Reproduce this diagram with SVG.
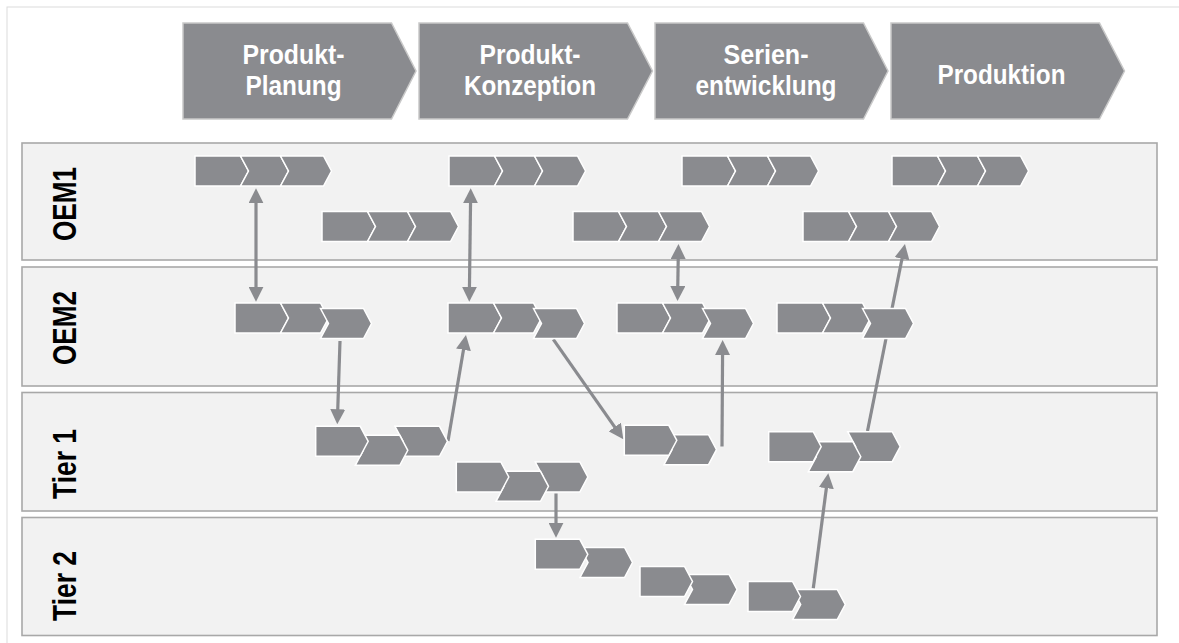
<svg xmlns="http://www.w3.org/2000/svg" xmlns:xlink="http://www.w3.org/1999/xlink" width="1179" height="643" viewBox="0 0 1179 643">
  <style>
    .frame { fill: #ffffff; stroke: #dcdcdc; stroke-width: 1; }
    .phase { fill: #8a8b8f; stroke: #c9c9c9; stroke-width: 1.5; }
    .phase-text { font-family: "Liberation Sans", Arial, sans-serif; font-weight: bold; font-size: 27px; fill: #ffffff; text-anchor: middle; }
    .lane { fill: #f2f2f2; stroke: #a8a8a8; stroke-width: 1.6; }
    .lane-text { font-family: "Liberation Sans", Arial, sans-serif; font-weight: bold; font-size: 33.5px; fill: #000000; text-anchor: middle; }
    .step { fill: #8a8b8f; stroke: #ffffff; stroke-width: 1.5; stroke-linejoin: miter; }
    .link { fill: none; stroke: #8a8b8f; stroke-width: 3.2; }
  </style>
  <defs>
    <!-- small process steps: flat-left first step and notched follow-up steps -->
    <polygon id="s-first" class="step" points="0,0 45.5,0 53.5,15 45.5,30 0,30"/>
    <polygon id="s-mid" class="step" points="0,0 40,0 48,15 40,30 0,30 8,15"/>
    <polygon id="s-last" class="step" points="0,0 43,0 51,15 43,30 0,30 8,15"/>
    <polygon id="t-first" class="step" points="0,0 44.5,0 52.5,15 44.5,30 0,30"/>
    <polygon id="t-next" class="step" points="0,0 44.5,0 52.5,15 44.5,30 0,30 8,15"/>
    <marker id="head" viewBox="0 0 15 15" refX="5" refY="7.5" markerWidth="15" markerHeight="15" markerUnits="userSpaceOnUse" orient="auto-start-reverse">
      <path d="M0,0 L15,7.5 L0,15 Z" fill="#8a8b8f"/>
    </marker>
  </defs>

  <rect class="frame" x="7" y="7" width="1180" height="645"/>

  <!-- phase header -->
  <g id="phase-planung">
    <polygon class="phase" points="183,23 391.5,23 416,71 391.5,119 183,119"/>
    <text class="phase-text" x="293.5" y="64" textLength="102" lengthAdjust="spacingAndGlyphs">Produkt-</text>
    <text class="phase-text" x="293.5" y="94.5" textLength="96" lengthAdjust="spacingAndGlyphs">Planung</text>
  </g>
  <g id="phase-konzeption">
    <polygon class="phase" points="419,23 627.5,23 652.5,71 627.5,119 419,119"/>
    <text class="phase-text" x="530" y="64" textLength="101" lengthAdjust="spacingAndGlyphs">Produkt-</text>
    <text class="phase-text" x="530" y="94.5" textLength="132" lengthAdjust="spacingAndGlyphs">Konzeption</text>
  </g>
  <g id="phase-serie">
    <polygon class="phase" points="655,23 863.5,23 888,71 863.5,119 655,119"/>
    <text class="phase-text" x="766" y="64" textLength="85" lengthAdjust="spacingAndGlyphs">Serien-</text>
    <text class="phase-text" x="766" y="94.5" textLength="141" lengthAdjust="spacingAndGlyphs">entwicklung</text>
  </g>
  <g id="phase-produktion">
    <polygon class="phase" points="891,23 1099.5,23 1124.5,71 1099.5,119 891,119"/>
    <text class="phase-text" x="1001.5" y="83.5" textLength="128" lengthAdjust="spacingAndGlyphs">Produktion</text>
  </g>

  <!-- swimlanes -->
  <g id="lane-oem1">
    <rect class="lane" x="22" y="143" width="1135" height="117"/>
    <text class="lane-text" transform="translate(76,204) rotate(-90)" textLength="74" lengthAdjust="spacingAndGlyphs">OEM1</text>
  </g>
  <g id="lane-oem2">
    <rect class="lane" x="22" y="267" width="1135" height="119"/>
    <text class="lane-text" transform="translate(76,328) rotate(-90)" textLength="74" lengthAdjust="spacingAndGlyphs">OEM2</text>
  </g>
  <g id="lane-tier1">
    <rect class="lane" x="22" y="392.5" width="1135" height="118.5"/>
    <text class="lane-text" transform="translate(76,464) rotate(-90)" textLength="70" lengthAdjust="spacingAndGlyphs">Tier 1</text>
  </g>
  <g id="lane-tier2">
    <rect class="lane" x="22" y="517.5" width="1135" height="118"/>
    <text class="lane-text" transform="translate(76,586) rotate(-90)" textLength="70" lengthAdjust="spacingAndGlyphs">Tier 2</text>
  </g>

  <!-- connectors -->
  <g id="connectors">
    <path class="link" d="M256,198.3 L256,291.7" marker-start="url(#head)" marker-end="url(#head)"/>
    <path class="link" d="M470.6,198.3 L469.4,291.7" marker-start="url(#head)" marker-end="url(#head)"/>
    <path class="link" d="M678.3,254 L677.7,291" marker-start="url(#head)" marker-end="url(#head)"/>
    <path class="link" d="M340,341 L337.6,414.3" marker-end="url(#head)"/>
    <path class="link" d="M448,441 L464.3,344.9" marker-end="url(#head)"/>
    <path class="link" d="M553.3,339.3 L617.6,431.1" marker-end="url(#head)"/>
    <path class="link" d="M722,446.5 L722.6,350" marker-end="url(#head)"/>
    <path class="link" d="M556,493.5 L556,527.7" marker-end="url(#head)"/>
    <path class="link" d="M813.3,588.3 L827,483.2" marker-end="url(#head)"/>
    <path class="link" d="M867.5,431 L903,253.8" marker-end="url(#head)"/>
  </g>

  <!-- OEM1 process chains -->
  <g id="oem1-a">
    <use xlink:href="#s-first" x="195" y="156"/>
    <use xlink:href="#s-mid" x="240.5" y="156"/>
    <use xlink:href="#s-last" x="280.5" y="156"/>
  </g>
  <g id="oem1-b">
    <use xlink:href="#s-first" x="449" y="156"/>
    <use xlink:href="#s-mid" x="494.5" y="156"/>
    <use xlink:href="#s-last" x="534.5" y="156"/>
  </g>
  <g id="oem1-c">
    <use xlink:href="#s-first" x="682" y="156"/>
    <use xlink:href="#s-mid" x="727.5" y="156"/>
    <use xlink:href="#s-last" x="767.5" y="156"/>
  </g>
  <g id="oem1-d">
    <use xlink:href="#s-first" x="892" y="156"/>
    <use xlink:href="#s-mid" x="937.5" y="156"/>
    <use xlink:href="#s-last" x="977.5" y="156"/>
  </g>
  <g id="oem1-e">
    <use xlink:href="#s-first" x="322" y="211.5"/>
    <use xlink:href="#s-mid" x="367.5" y="211.5"/>
    <use xlink:href="#s-last" x="407.5" y="211.5"/>
  </g>
  <g id="oem1-f">
    <use xlink:href="#s-first" x="573" y="211.5"/>
    <use xlink:href="#s-mid" x="618.5" y="211.5"/>
    <use xlink:href="#s-last" x="658.5" y="211.5"/>
  </g>
  <g id="oem1-g">
    <use xlink:href="#s-first" x="803" y="211.5"/>
    <use xlink:href="#s-mid" x="848.5" y="211.5"/>
    <use xlink:href="#s-last" x="888.5" y="211.5"/>
  </g>

  <!-- OEM2 process chains (last step slightly lower) -->
  <g id="oem2-a">
    <use xlink:href="#s-first" x="235" y="303"/>
    <use xlink:href="#s-mid" x="280.5" y="303"/>
    <use xlink:href="#s-last" x="320.5" y="308.5"/>
  </g>
  <g id="oem2-b">
    <use xlink:href="#s-first" x="448" y="303"/>
    <use xlink:href="#s-mid" x="493.5" y="303"/>
    <use xlink:href="#s-last" x="533.5" y="308.5"/>
  </g>
  <g id="oem2-c">
    <use xlink:href="#s-first" x="617" y="303"/>
    <use xlink:href="#s-mid" x="662.5" y="303"/>
    <use xlink:href="#s-last" x="702.5" y="308.5"/>
  </g>
  <g id="oem2-d">
    <use xlink:href="#s-first" x="777" y="303"/>
    <use xlink:href="#s-mid" x="822.5" y="303"/>
    <use xlink:href="#s-last" x="862.5" y="308.5"/>
  </g>

  <!-- Tier 1 process chains (staggered steps) -->
  <g id="tier1-a">
    <use xlink:href="#t-next" x="395" y="426.3"/>
    <use xlink:href="#t-next" x="355.3" y="435.3"/>
    <use xlink:href="#t-first" x="315.7" y="426.3"/>
  </g>
  <g id="tier1-b">
    <use xlink:href="#t-next" x="535.3" y="462"/>
    <use xlink:href="#t-next" x="496" y="471.3"/>
    <use xlink:href="#t-first" x="456.3" y="462"/>
  </g>
  <g id="tier1-c">
    <use xlink:href="#t-next" x="664" y="434.7"/>
    <use xlink:href="#t-first" x="624.3" y="425.3"/>
  </g>
  <g id="tier1-d">
    <use xlink:href="#t-next" x="847.7" y="431.7"/>
    <use xlink:href="#t-next" x="808.3" y="441.7"/>
    <use xlink:href="#t-first" x="768.7" y="431.7"/>
  </g>

  <!-- Tier 2 process chains -->
  <g id="tier2-a">
    <use xlink:href="#t-next" x="580" y="547.5"/>
    <use xlink:href="#t-first" x="535.3" y="539.3"/>
  </g>
  <g id="tier2-b">
    <use xlink:href="#t-next" x="684.5" y="574.5"/>
    <use xlink:href="#t-first" x="640" y="566.5"/>
  </g>
  <g id="tier2-c">
    <use xlink:href="#t-next" x="792.7" y="589.5"/>
    <use xlink:href="#t-first" x="748" y="581.5"/>
  </g>
</svg>
